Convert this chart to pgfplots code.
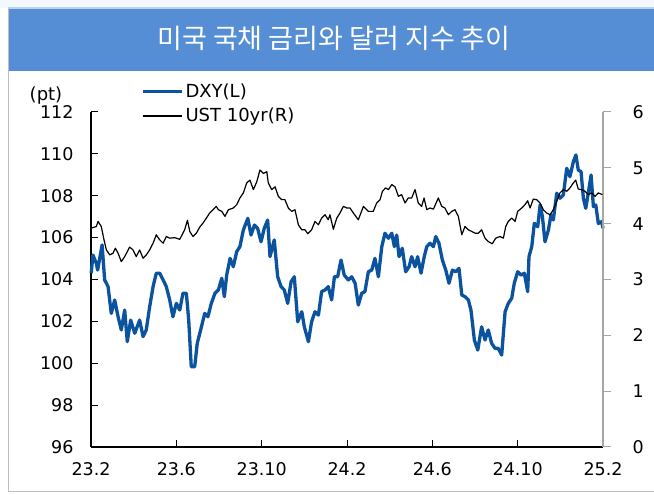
\documentclass[border=0pt]{standalone}
\usepackage{fontspec}
\setmainfont{DejaVu Sans}
\newfontfamily\kr{Noto Sans CJK KR}
\usepackage{pgfplots}
\pgfplotsset{compat=1.18}
\definecolor{titleblue}{HTML}{558ED5}
\definecolor{dxyblue}{HTML}{0B539E}
\definecolor{framegray}{HTML}{BFBFBF}
\definecolor{rightgray}{HTML}{A6A6A6}
\definecolor{topstrip}{HTML}{F3F8FC}
\definecolor{topline}{HTML}{B9D3EA}
\begin{document}
\begin{tikzpicture}[x=1bp,y=1bp]
\useasboundingbox (0,0) rectangle (654,495);
\fill[white] (0,0) rectangle (654,495);
\fill[topstrip] (0,487) rectangle (654,495);
\draw[topline, line width=1.5bp] (8,487) -- (654,487);
\fill[titleblue] (8,424) rectangle (654,486);
\draw[framegray, line width=1bp] (8,487) -- (8,3) -- (654,3);
\node[text=white, font=\kr\fontsize{27bp}{31bp}\selectfont] at (334,457) {미국 국채 금리와 달러 지수 추이};
\node[font=\fontsize{18bp}{21bp}\selectfont] at (46,399) {(pt)};

\begin{axis}[
 at={(91bp,48bp)}, anchor=south west, scale only axis, width=512bp, height=335bp,
 xmin=0, xmax=24, ymin=96, ymax=112,
 axis x line*=bottom, axis y line*=left, axis line style={-, black, line width=1.2bp},
 xtick={0,4,...,24}, xticklabels={23.2,23.6,23.10,24.2,24.6,24.10,25.2},
 ytick={96,98,...,112},
 tick align=inside, major tick length=7bp, tick style={black, line width=1bp},
 tick label style={font=\fontsize{17.5bp}{20bp}\selectfont},
 /pgf/number format/assume math mode=true,
 yticklabel style={anchor=east, xshift=-14bp},
 xticklabel style={yshift=-12bp},
 clip=false,
]
\addplot[dxyblue, line width=3.3bp, line join=round] coordinates {
(0.01,104.30)(0.09,105.17)(0.25,104.77)(0.31,104.45)(0.52,105.65)(0.64,103.98)(0.80,103.66)(0.95,102.38)(1.11,103.02)(1.27,102.22)(1.42,101.59)(1.58,102.54)(1.70,101.03)(1.86,102.06)(2.05,101.43)(2.28,102.06)(2.44,101.27)(2.59,101.59)(2.75,102.70)(2.91,103.66)(3.06,104.30)(3.22,104.30)(3.38,103.98)(3.53,103.66)(3.69,103.02)(3.84,102.22)(4.00,102.86)(4.16,102.54)(4.31,103.34)(4.47,103.34)(4.58,102.06)(4.70,99.83)(4.86,99.83)(4.98,100.95)(5.14,101.59)(5.33,102.38)(5.48,102.22)(5.64,102.86)(5.81,103.34)(5.97,103.50)(6.13,104.06)(6.25,103.18)(6.36,104.21)(6.52,105.01)(6.67,104.61)(6.83,105.33)(6.98,105.57)(7.14,106.36)(7.35,106.92)(7.50,106.12)(7.66,106.60)(7.81,106.44)(7.97,105.80)(8.12,106.44)(8.28,106.84)(8.39,105.09)(8.59,105.89)(8.75,104.13)(8.91,103.66)(9.06,103.50)(9.22,102.86)(9.38,103.90)(9.53,104.13)(9.69,101.98)(9.88,102.46)(10.00,101.74)(10.19,101.03)(10.34,101.98)(10.50,102.46)(10.66,102.30)(10.81,103.42)(10.97,103.50)(11.12,103.66)(11.28,103.02)(11.41,104.13)(11.56,104.13)(11.72,104.93)(11.87,104.21)(12.06,103.98)(12.22,104.13)(12.38,103.82)(12.53,102.78)(12.69,103.34)(12.84,103.42)(13.00,104.37)(13.16,104.45)(13.31,105.01)(13.47,104.13)(13.63,105.57)(13.78,106.21)(13.94,105.97)(14.10,106.21)(14.22,105.57)(14.33,106.12)(14.44,105.09)(14.59,105.49)(14.75,104.37)(14.91,104.61)(15.03,105.09)(15.19,104.61)(15.31,105.09)(15.47,104.30)(15.62,105.09)(15.74,105.57)(15.89,105.73)(16.05,105.57)(16.16,106.05)(16.31,105.73)(16.47,104.93)(16.63,104.45)(16.78,103.82)(16.94,104.45)(17.10,104.37)(17.25,104.53)(17.38,103.26)(17.53,103.18)(17.69,103.02)(17.81,102.54)(17.97,101.11)(18.13,100.63)(18.31,101.74)(18.47,101.11)(18.62,101.59)(18.78,100.95)(18.94,100.71)(19.09,100.71)(19.25,100.39)(19.41,102.46)(19.56,102.86)(19.72,103.10)(19.84,103.82)(20.00,104.37)(20.16,104.21)(20.31,104.30)(20.47,103.42)(20.53,105.09)(20.66,105.57)(20.78,106.68)(20.94,106.52)(21.05,107.56)(21.16,107.00)(21.28,105.80)(21.44,106.36)(21.56,107.08)(21.67,106.84)(21.83,108.12)(21.98,107.88)(22.14,108.04)(22.30,109.31)(22.45,108.91)(22.61,109.63)(22.73,109.95)(22.84,109.23)(22.97,109.15)(23.08,107.88)(23.19,107.40)(23.31,108.12)(23.44,108.99)(23.55,107.48)(23.66,107.56)(23.78,106.68)(23.94,106.76)(24.00,106.44)
};
\end{axis}

\begin{axis}[
 at={(91bp,48bp)}, anchor=south west, scale only axis, width=512bp, height=335bp,
 xmin=0, xmax=24, ymin=0, ymax=6,
 axis x line=none, axis y line*=right, axis line style={-, rightgray, line width=1.5bp},
 ytick={0,1,...,6},
 tick align=outside, major tick length=8bp, tick style={rightgray, line width=1bp},
 tick label style={font=\fontsize{17.5bp}{20bp}\selectfont},
 /pgf/number format/assume math mode=true,
 yticklabel style={anchor=west, xshift=18bp},
 clip=false,
 legend style={at={(0.0977,1.0896)}, anchor=north west, draw=none, fill=none,
   font=\fontsize{18bp}{21bp}\selectfont, row sep=5bp, inner sep=0pt, nodes={inner sep=2bp}},
 legend cell align=left,
 legend image code/.code={\draw[#1] (0bp,0bp) -- (39bp,0bp);},
]
\addlegendimage{dxyblue, line width=3.3bp}
\addlegendentry{DXY(L)}
\addplot[black, line width=1.2bp, line join=round] coordinates {
(0.01,3.92)(0.25,3.95)(0.33,4.04)(0.48,3.95)(0.61,3.71)(0.72,3.53)(0.88,3.44)(1.03,3.47)(1.14,3.56)(1.27,3.47)(1.42,3.32)(1.58,3.41)(1.81,3.58)(1.97,3.53)(2.12,3.41)(2.28,3.53)(2.44,3.38)(2.59,3.44)(2.75,3.53)(2.91,3.65)(3.06,3.80)(3.22,3.71)(3.38,3.65)(3.53,3.77)(3.69,3.74)(3.92,3.75)(4.16,3.72)(4.39,3.89)(4.52,4.06)(4.63,3.86)(4.78,3.77)(4.94,3.83)(5.10,3.94)(5.25,4.01)(5.41,4.10)(5.56,4.19)(5.72,4.25)(5.87,4.31)(5.97,4.25)(6.13,4.22)(6.28,4.13)(6.44,4.25)(6.67,4.28)(6.83,4.34)(6.98,4.46)(7.14,4.55)(7.30,4.73)(7.45,4.78)(7.61,4.61)(7.77,4.75)(7.92,4.96)(8.08,4.90)(8.24,4.93)(8.31,4.73)(8.47,4.61)(8.63,4.66)(8.78,4.49)(8.94,4.43)(9.09,4.43)(9.25,4.28)(9.41,4.22)(9.56,4.25)(9.72,3.98)(9.88,3.89)(10.03,3.89)(10.16,3.82)(10.34,3.89)(10.50,4.04)(10.66,3.98)(10.81,4.10)(10.97,4.16)(11.12,4.07)(11.20,4.16)(11.36,3.90)(11.52,4.10)(11.67,4.19)(11.83,4.31)(11.99,4.28)(12.14,4.28)(12.30,4.19)(12.53,4.07)(12.77,4.31)(13.00,4.22)(13.23,4.22)(13.39,4.37)(13.55,4.43)(13.66,4.58)(13.81,4.64)(13.94,4.61)(14.10,4.70)(14.25,4.66)(14.41,4.49)(14.56,4.52)(14.72,4.37)(14.87,4.46)(15.03,4.46)(15.19,4.61)(15.34,4.37)(15.50,4.31)(15.61,4.46)(15.74,4.25)(15.89,4.28)(16.05,4.26)(16.28,4.46)(16.44,4.31)(16.59,4.28)(16.75,4.16)(16.91,4.22)(17.06,4.25)(17.22,4.13)(17.38,3.80)(17.53,3.95)(17.69,3.89)(17.85,3.86)(18.00,3.83)(18.16,3.83)(18.31,3.89)(18.47,3.74)(18.62,3.68)(18.81,3.64)(18.97,3.74)(19.17,3.77)(19.33,3.74)(19.44,3.95)(19.56,4.04)(19.72,4.10)(19.88,4.04)(20.00,4.22)(20.19,4.28)(20.34,4.34)(20.47,4.41)(20.58,4.28)(20.73,4.44)(20.89,4.43)(21.05,4.37)(21.20,4.25)(21.36,4.19)(21.52,4.16)(21.67,4.25)(21.83,4.40)(21.98,4.55)(22.14,4.61)(22.30,4.58)(22.45,4.64)(22.61,4.73)(22.72,4.78)(22.84,4.62)(22.98,4.61)(23.16,4.58)(23.30,4.52)(23.47,4.55)(23.63,4.49)(23.78,4.55)(23.97,4.52)
};
\addlegendentry{UST 10yr(R)}
\end{axis}
\end{tikzpicture}
\end{document}
